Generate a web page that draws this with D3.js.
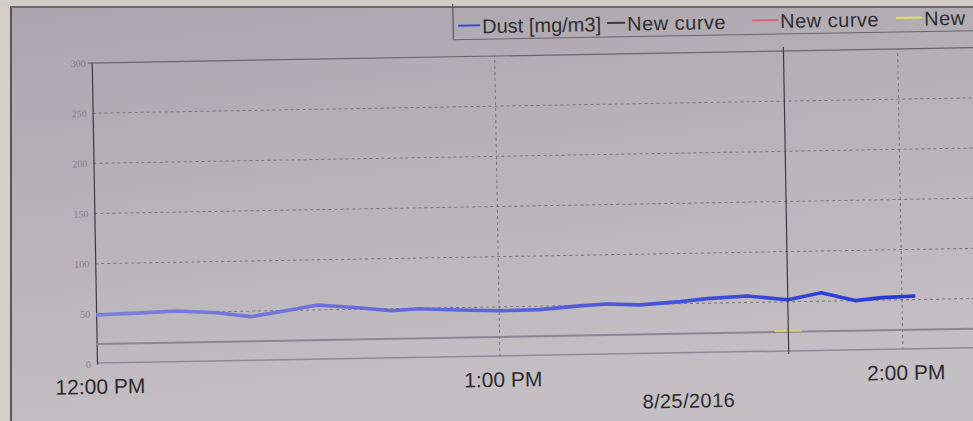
<!DOCTYPE html>
<html><head><meta charset="utf-8">
<script src="https://cdn.jsdelivr.net/npm/d3@7"></script>
<style>html,body{margin:0;padding:0;background:#b8b3b8;}svg{display:block;}</style>
</head><body>
<svg id="chart" width="973" height="421"></svg>
<script>
// ---- data ----
const dustTimes = ["12:00","12:06","12:12","12:18","12:23","12:28","12:33","12:39","12:44","12:48","12:54","13:00","13:06","13:12","13:16","13:21","13:27","13:31","13:37","13:43","13:48","13:53","13:57","14:02"];
const dustValues = [49,50,51.5,49,44.5,49.5,55,51.5,48,49.5,47.5,46,46.5,49.5,51,49.5,52,54.5,56.5,52,58.5,50,52.5,53.5];
const blackTimes = ["12:00","14:12"];
const blackValues = [20,20];
const yellowTimes = ["13:41","13:45"];
const yellowValues = [21,21];
const cursorTime = "13:43";
const yTicks = [0,50,100,150,200,250,300];
const xTicks = ["12:00","13:00","14:00"];
const xTickLabels = ["12:00 PM","1:00 PM","2:00 PM"];
const dateLabel = "8/25/2016";
const legendLabels = ["Dust [mg/m3]","New curve","New curve","New"];
const legendColors = ["#3a48d8","#3a3a3a","#e0607a","#e6e060"];

// ---- setup ----
const svg = d3.select("#chart");
const W = 973, H = 421;
const parse = d3.timeParse("%Y-%m-%d %H:%M");
const t = s => parse("2016-08-25 " + s);
const x0 = 97, y0 = 364;
const x = d3.scaleTime().domain([t("12:00"), t("14:12")]).range([x0, x0 + 132/60*403]);
const y = d3.scaleLinear().domain([0,300]).range([y0, 63]);

const defs = svg.append("defs");
const bg = defs.append("linearGradient").attr("id","bg").attr("x1",0).attr("y1",0).attr("x2",0.3).attr("y2",1);
bg.append("stop").attr("offset","0").attr("stop-color","#aba6ad");
bg.append("stop").attr("offset","1").attr("stop-color","#c3bfc3");
const lg = defs.append("linearGradient").attr("id","lineg").attr("gradientUnits","userSpaceOnUse")
  .attr("x1",x0).attr("y1",0).attr("x2",930).attr("y2",0);
lg.append("stop").attr("offset","0").attr("stop-color","#7f80dc");
lg.append("stop").attr("offset","0.5").attr("stop-color","#5a62dc");
lg.append("stop").attr("offset","1").attr("stop-color","#2236d8");

svg.append("rect").attr("width",W).attr("height",H).attr("fill","url(#bg)");
// screen border (photo frame)
svg.append("rect").attr("x",0).attr("y",0).attr("width",10).attr("height",H).attr("fill","#d5cec6");
svg.append("rect").attr("x",10).attr("y",0).attr("width",2).attr("height",H).attr("fill","#5a565a");
svg.append("rect").attr("x",0).attr("y",0).attr("width",W).attr("height",6).attr("fill","#d0ccc8");
svg.append("rect").attr("x",10).attr("y",6).attr("width",W).attr("height",2).attr("fill","#6a666a");

const g = svg.append("g").attr("transform", `rotate(-1, ${x0}, ${y0})`);

// grid
g.selectAll(".hg").data(yTicks.filter(v => v > 0 && v < 300)).join("line")
  .attr("x1", x0).attr("x2", x.range()[1]).attr("y1", d => y(d)).attr("y2", d => y(d))
  .attr("stroke","#77737a").attr("stroke-width",1).attr("stroke-dasharray","3,3");
g.selectAll(".vg").data(xTicks.slice(1)).join("line")
  .attr("x1", d => x(t(d))).attr("x2", d => x(t(d))).attr("y1", y(0)).attr("y2", y(300))
  .attr("stroke","#77737a").attr("stroke-width",1).attr("stroke-dasharray","3,3");
// top border
g.append("line").attr("x1", x0-4).attr("x2", x.range()[1]).attr("y1", y(300)).attr("y2", y(300))
  .attr("stroke","#6a666c").attr("stroke-width",1.2);
// zero line
g.append("line").attr("x1", x0).attr("x2", x.range()[1]).attr("y1", y(0)-1).attr("y2", y(0)-1)
  .attr("stroke","#8f8b94").attr("stroke-width",1.5);

// y axis
const yAxis = d3.axisLeft(y).tickValues(yTicks).tickSize(0).tickPadding(6);
const ya = g.append("g").attr("transform",`translate(${x0},0)`).call(yAxis);
ya.select(".domain").attr("stroke","#3e3a40").attr("stroke-width",1.2);
ya.selectAll("text").attr("fill","#837e88").attr("font-family","Liberation Serif, serif").attr("font-size",10);

// x axis labels
const xAxis = d3.axisBottom(x).tickValues(xTicks.map(t)).tickSize(0).tickPadding(0)
  .tickFormat((d,i) => xTickLabels[i]);
const xa = g.append("g").attr("transform",`translate(0,${y0+11})`).call(xAxis);
xa.select(".domain").remove();
xa.selectAll("text").attr("fill","#2c2a2e").attr("font-family","Liberation Sans, Arial, sans-serif")
  .attr("font-size",21).attr("dy","0.9em");
xa.selectAll(".tick").attr("transform", d => `translate(${x(d)+3},0)`);
g.append("text").attr("x", x(t("13:28"))).attr("y", y0 + 54).attr("text-anchor","middle")
  .attr("fill","#2c2a2e").attr("font-family","Liberation Sans, Arial, sans-serif").attr("font-size",20)
  .attr("letter-spacing",0.4).text(dateLabel);

// series
const line = d3.line().x(d => x(t(d[0]))).y(d => y(d[1]));
g.append("path").datum(d3.zip(blackTimes, blackValues)).attr("d", line)
  .attr("fill","none").attr("stroke","#8a8690").attr("stroke-width",2);
g.append("path").datum(d3.zip(yellowTimes, yellowValues)).attr("d", line)
  .attr("fill","none").attr("stroke","#d8d470").attr("stroke-width",2);
g.append("path").datum(d3.zip(dustTimes, dustValues)).attr("d", line)
  .attr("fill","none").attr("stroke","url(#lineg)").attr("stroke-width",3.6).attr("stroke-linejoin","round");

// cursor
g.append("line").attr("x1", x(t(cursorTime))).attr("x2", x(t(cursorTime))).attr("y1", y(300)-4).attr("y2", y(0)+2)
  .attr("stroke","#3e3a44").attr("stroke-width",1.2);

// legend
const lgG = g.append("g");
lgG.append("line").attr("x1",459).attr("x2",459).attr("y1",10).attr("y2",46).attr("stroke","#5a565c").attr("stroke-width",1.2);
lgG.append("line").attr("x1",459).attr("x2",990).attr("y1",46).attr("y2",46).attr("stroke","#6a666c").attr("stroke-width",1);
const legendX = [464, 613, 758, 902];
const lineW = [22, 18, 26, 26];
legendLabels.forEach((lab, i) => {
  lgG.append("line").attr("x1", legendX[i]).attr("x2", legendX[i] + lineW[i]).attr("y1", 32).attr("y2", 32)
    .attr("stroke", legendColors[i]).attr("stroke-width", 2);
  lgG.append("text").attr("x", legendX[i] + lineW[i] + 2).attr("y", 40)
    .attr("font-family","Liberation Sans, Arial, sans-serif").attr("font-size",20)
    .attr("letter-spacing", i === 0 ? 0 : 0.5)
    .attr("fill","#2f2d31").text(lab);
});
</script>
</body></html>
